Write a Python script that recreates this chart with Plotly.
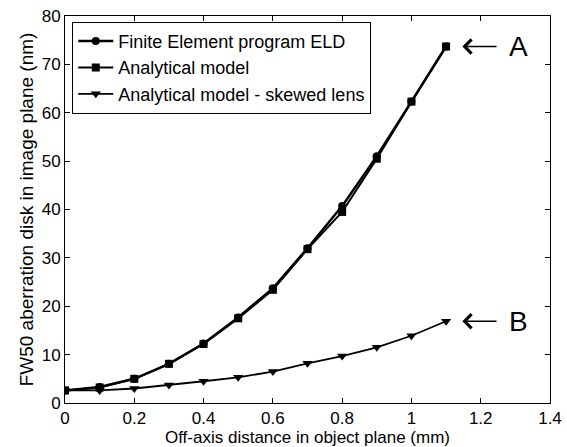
import plotly.graph_objects as go

x_vals = [0, 0.1, 0.2, 0.3, 0.4, 0.5, 0.6, 0.7, 0.8, 0.9, 1.0, 1.1]
fe_vals = [2.6, 3.3, 5.0, 8.1, 12.3, 17.7, 23.7, 32.0, 40.7, 51.0, 62.3, 73.7]
an_vals = [2.6, 3.2, 5.0, 8.1, 12.2, 17.5, 23.4, 31.8, 39.5, 50.5, 62.3, 73.7]
sk_vals = [2.6, 2.6, 3.0, 3.7, 4.5, 5.3, 6.5, 8.2, 9.7, 11.5, 13.9, 16.9]

names = ["Finite Element program ELD", "Analytical model", "Analytical model - skewed lens"]
x_ticks = [0, 0.2, 0.4, 0.6, 0.8, 1.0, 1.2, 1.4]
x_tick_text = ["0", "0.2", "0.4", "0.6", "0.8", "1", "1.2", "1.4"]
y_ticks = [0, 10, 20, 30, 40, 50, 60, 70, 80]

fig = go.Figure()
fig.add_trace(go.Scatter(x=x_vals, y=fe_vals, name=names[0], mode="lines+markers",
                         line=dict(color="black", width=2.5),
                         marker=dict(symbol="circle", size=8, color="black")))
fig.add_trace(go.Scatter(x=x_vals, y=an_vals, name=names[1], mode="lines+markers",
                         line=dict(color="black", width=2),
                         marker=dict(symbol="square", size=8, color="black")))
fig.add_trace(go.Scatter(x=x_vals, y=sk_vals, name=names[2], mode="lines+markers",
                         line=dict(color="black", width=1.8),
                         marker=dict(symbol="triangle-down", size=9, color="black")))

axis_common = dict(showgrid=False, zeroline=False, showline=True, linecolor="black",
                   linewidth=1, mirror="ticks", ticks="inside", ticklen=5,
                   tickcolor="black", tickfont=dict(size=17, color="black"),
                   automargin=False)
fig.update_xaxes(range=[0, 1.4], tickvals=x_ticks, ticktext=x_tick_text,
                 title=dict(text="Off-axis distance in object plane (mm)", font=dict(size=17, color="black"), standoff=0),
                 **axis_common)
fig.update_yaxes(range=[0, 80], tickvals=y_ticks,
                 title=dict(text="FW50 aberration disk in image plane (nm)", font=dict(size=19, color="black"), standoff=3),
                 **axis_common)

for label, yv in [("A", an_vals[-1]), ("B", sk_vals[-1])]:
    fig.add_annotation(x=1.147, y=yv, ax=1.25, ay=yv, xref="x", yref="y", axref="x", ayref="y",
                       showarrow=True, arrowhead=4, arrowsize=1.7, arrowwidth=1.6, arrowcolor="black", text="")
    fig.add_annotation(x=1.275, y=yv, xref="x", yref="y", text=label, showarrow=False,
                       xanchor="left", font=dict(size=28, color="black"))

fig.update_layout(
    width=567, height=447,
    margin=dict(l=65, r=17, t=16, b=44),
    paper_bgcolor="white", plot_bgcolor="white",
    font=dict(family="Liberation Sans, Arial, sans-serif", color="black"),
    legend=dict(x=0.015, y=0.985, xanchor="left", yanchor="top",
                bordercolor="black", borderwidth=1, bgcolor="white",
                font=dict(size=18, color="black"), tracegroupgap=0,
                itemwidth=35),
    showlegend=True,
)

fig.write_html("out.html")
